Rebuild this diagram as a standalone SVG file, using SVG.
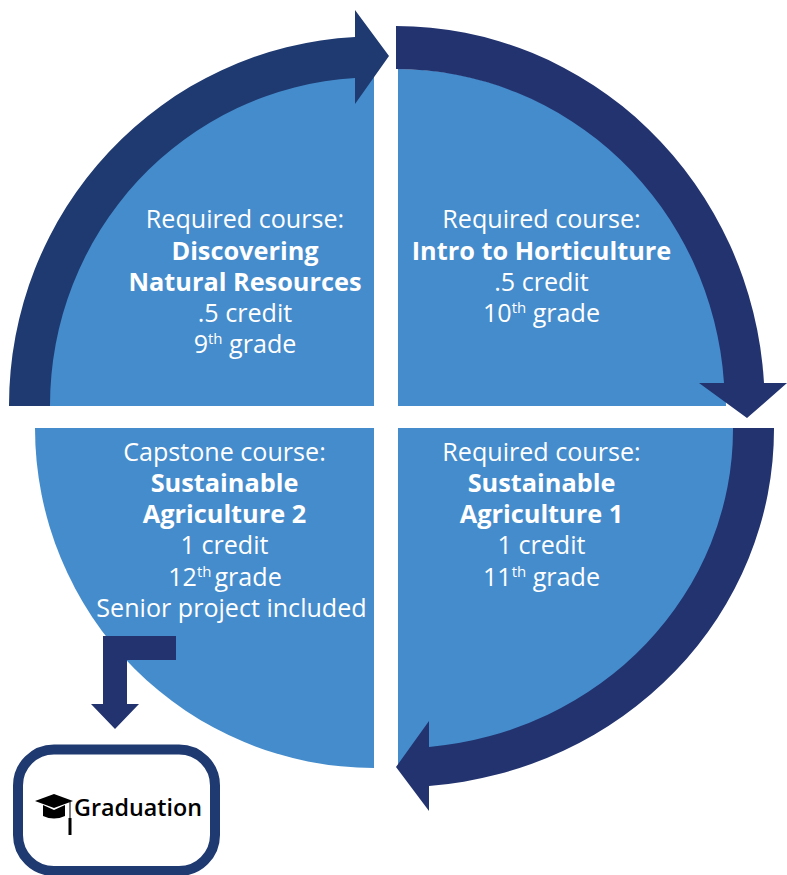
<svg xmlns="http://www.w3.org/2000/svg" width="787" height="875" viewBox="0 0 787 875">
<style>
.q{fill:#458ccc}
.a{fill:#22336f}
.b{fill:#1f3a70}
text{font-family:"Open Sans","Noto Sans","Liberation Sans",sans-serif;font-size:25.1px;fill:#fff;text-anchor:middle}
.h{font-weight:700;font-size:25.300px}
.s{font-size:15px}
</style>
<rect width="787" height="875" fill="#fff"/>
<g id="q-top-left">
<path class="q" d="M374 406V60H340A345 350 0 0 0 30 406Z"/>
<text x="245" y="228">Required course:</text>
<text x="245" y="260" class="h">Discovering</text>
<text x="245" y="291" class="h">Natural Resources</text>
<text x="245" y="322">.5 credit</text>
<text x="245" y="353">9<tspan class="s" dy="-9">th</tspan><tspan dy="9"> grade</tspan></text>
</g>
<g id="q-top-right">
<path class="q" d="M398 406V69A328 337 0 0 1 726 406Z"/>
<text x="541.500" y="228">Required course:</text>
<text x="541.500" y="260" class="h">Intro to Horticulture</text>
<text x="541.500" y="291">.5 credit</text>
<text x="541.500" y="322">10<tspan class="s" dy="-9">th</tspan><tspan dy="9"> grade</tspan></text>
</g>
<g id="q-bottom-right">
<path class="q" d="M398 428H755A357 340 0 0 1 398 768Z"/>
<text x="541.500" y="461">Required course:</text>
<text x="541.500" y="492" class="h">Sustainable</text>
<text x="541.500" y="523" class="h">Agriculture 1</text>
<text x="541.500" y="554">1 credit</text>
<text x="541.500" y="586">11<tspan class="s" dy="-9">th</tspan><tspan dy="9"> grade</tspan></text>
</g>
<g id="q-bottom-left">
<path class="q" d="M374 428H35A339 340 0 0 0 374 768Z"/>
<text x="224.500" y="461">Capstone course:</text>
<text x="224.500" y="492" class="h">Sustainable</text>
<text x="224.500" y="523" class="h">Agriculture 2</text>
<text x="224.500" y="554">1 credit</text>
<text x="225" y="586">12<tspan class="s" dy="-9">th</tspan><tspan dy="9" dx="3">grade</tspan></text>
<text x="231.500" y="617">Senior project included</text>
</g>
<g id="connectors">
<path class="b" d="M9 406A365 369 0 0 1 355 37V10L389 56L355 104V78A324 328 0 0 0 50 406Z"/>
<path class="a" d="M396 26A369 380 0 0 1 764 383H787L747 418L699 383H724A329 337 0 0 0 396 69Z"/>
<path class="a" d="M774 428A376 358 0 0 1 429 786V811L396 767L429 721V747A335 319 0 0 0 733 428Z"/>
<path class="a" d="M176 636H103V704H91L115 729L139 704H127V660H176Z"/>
</g>
<g id="graduation">
<rect x="18" y="749.500" width="197" height="121.500" rx="36" fill="#fff" stroke="#1f3a70" stroke-width="10"/>
<path d="M35 801L54 794L73 801L54 808Z" fill="#000"/>
<path d="M43 805L54 810L65 805V816Q54 821 43 816Z" fill="#000"/>
<path d="M69.500 802H70.500V818H71.500V835H68.500V818H69.500Z" fill="#000"/>
<text x="138" y="816" style="fill:#000;font-size:23.300px;font-weight:600">Graduation</text>
</g>
</svg>
